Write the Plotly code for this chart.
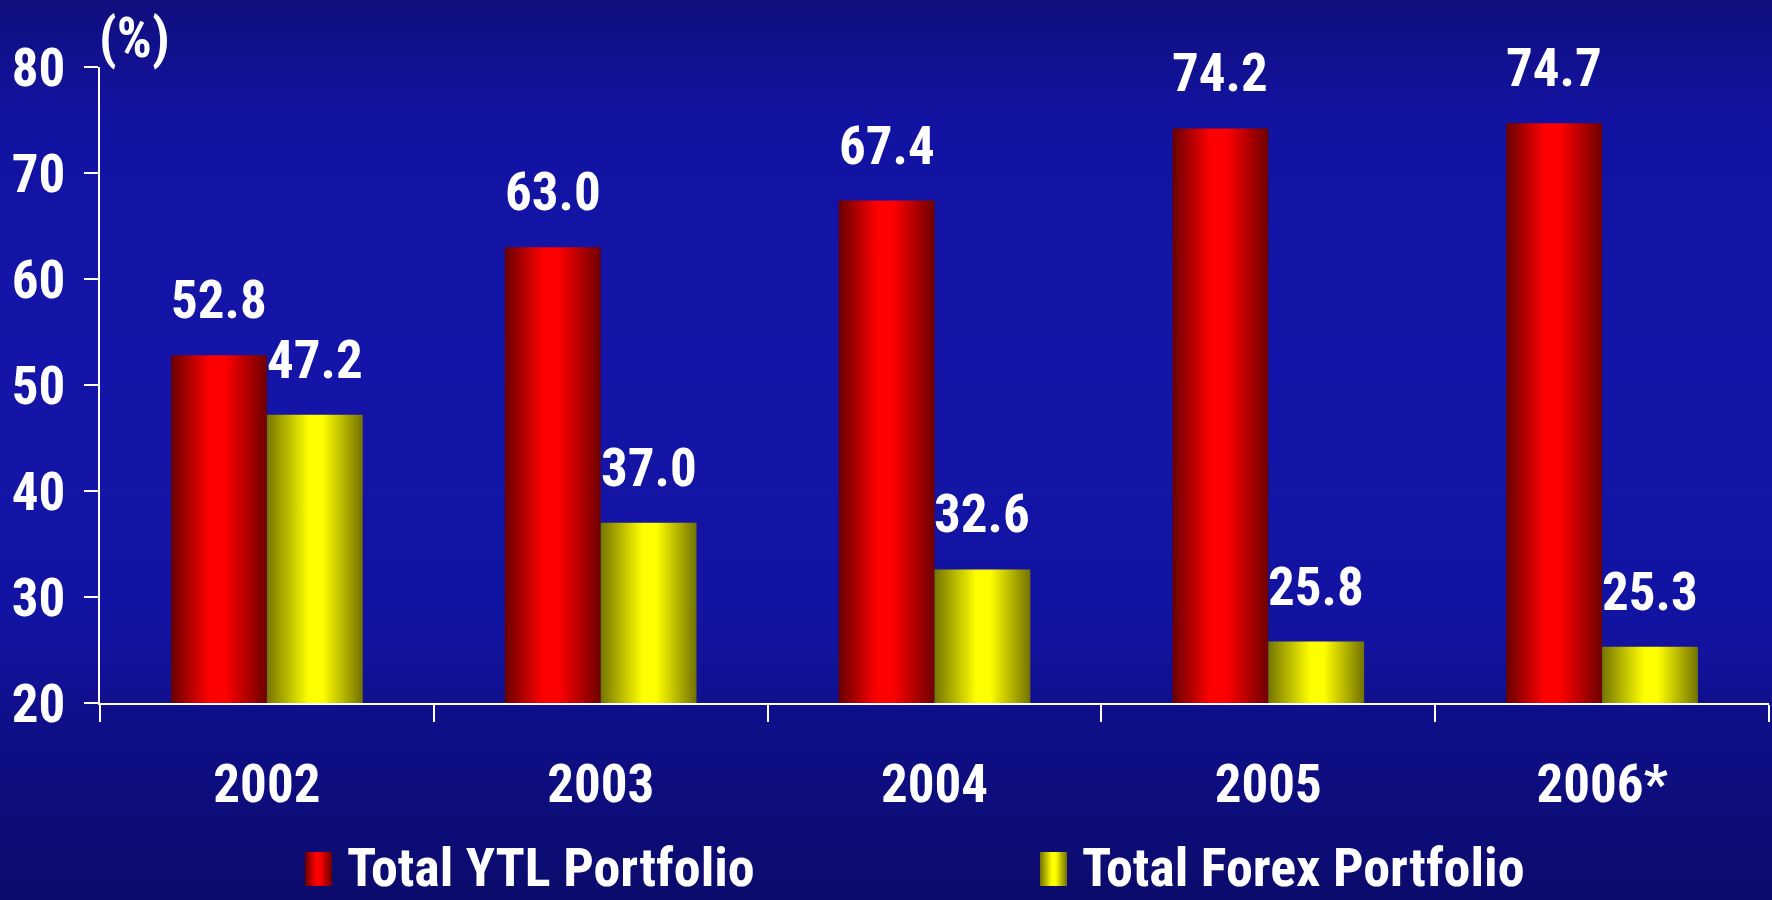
import base64
import struct
import zlib

import plotly.graph_objects as go

# Portfolio shares (%) by year
years = ["2002", "2003", "2004", "2005", "2006*"]
ytl_share = [52.8, 63.0, 67.4, 74.2, 74.7]
forex_share = [47.2, 37.0, 32.6, 25.8, 25.3]
series_names = ["Total YTL Portfolio", "Total Forex Portfolio"]
y_ticks = [20, 30, 40, 50, 60, 70, 80]

# Canvas and plot-area geometry (pixels)
W, H = 1772, 900
ML, MR, MT, MB = 100, 3, 67, 197
PW = W - ML - MR
PH = H - MT - MB
PLOT_BOTTOM = H - MB

FONT = "Noto Sans Condensed, Roboto Condensed, DejaVu Sans Condensed, sans-serif"
WHITE = "#ffffff"

RED_SCALE = [[0.0, "#690000"], [0.40, "#ff0000"], [0.56, "#ff0000"], [1.0, "#6e0000"]]
YEL_SCALE = [[0.0, "#757500"], [0.44, "#ffff00"], [0.58, "#ffff00"], [1.0, "#727200"]]


def xp(px):
    return (px - ML) / PW


def yp(py):
    return (PLOT_BOTTOM - py) / PH


def _rgb(c):
    if isinstance(c, str):
        c = c.lstrip("#")
        return tuple(int(c[i:i + 2], 16) for i in (0, 2, 4))
    return c


def _interp(stops, t):
    for (t0, c0), (t1, c1) in zip(stops, stops[1:]):
        if t0 <= t <= t1:
            f = 0 if t1 == t0 else (t - t0) / (t1 - t0)
            a, b = _rgb(c0), _rgb(c1)
            return tuple(int(round(a[k] + (b[k] - a[k]) * f)) for k in range(3))
    return _rgb(stops[-1][1])


def png_uri(rows):
    """Encode a list of pixel rows [(r,g,b), ...] as a PNG data URI."""
    h = len(rows)
    w = len(rows[0])
    raw = b"".join(b"\x00" + bytes(v for px in row for v in px) for row in rows)

    def chunk(tag, data):
        return (struct.pack(">I", len(data)) + tag + data
                + struct.pack(">I", zlib.crc32(tag + data) & 0xFFFFFFFF))

    png = (b"\x89PNG\r\n\x1a\n"
           + chunk(b"IHDR", struct.pack(">IIBBBBB", w, h, 8, 2, 0, 0, 0))
           + chunk(b"IDAT", zlib.compress(raw, 9))
           + chunk(b"IEND", b""))
    return "data:image/png;base64," + base64.b64encode(png).decode()


# Vertical navy backdrop
bg_stops = [(0.0, (15, 15, 126)), (0.13, (19, 19, 162)), (0.40, (20, 20, 168)),
            (0.70, (19, 19, 162)), (0.80, (15, 15, 138)), (1.0, (11, 11, 108))]
bg_rows = [[_interp(bg_stops, i / 299)] for i in range(300)]
bg_uri = png_uri(bg_rows)


def hgrad_uri(scale, n=64):
    return png_uri([[_interp(scale, i / (n - 1)) for i in range(n)]])


fig = go.Figure()

# Bars: each bar is a filled outline in data coordinates with a horizontal shading
half = 0.287
for s, (vals, scale) in enumerate([(ytl_share, RED_SCALE), (forex_share, YEL_SCALE)]):
    for i, v in enumerate(vals):
        x0 = i - half if s == 0 else i
        x1 = x0 + half
        fig.add_trace(go.Scatter(
            x=[x0, x1, x1, x0, x0], y=[0, 0, v, v, 0],
            mode="lines", line=dict(width=0), fill="toself",
            fillgradient=dict(type="horizontal", colorscale=scale),
            name=series_names[s], showlegend=False, hoverinfo="skip",
        ))


def bold(size):
    return dict(family=FONT, size=size, color=WHITE, weight="bold")


annotations = []
# Value labels above the bars
for s, vals in enumerate([ytl_share, forex_share]):
    for i, v in enumerate(vals):
        cx = i - half / 2 if s == 0 else i + half / 2
        annotations.append(dict(
            x=cx, y=v, xref="x", yref="y", text=f"{v:.1f}", showarrow=False,
            xanchor="center", yanchor="middle", yshift=55, font=bold(53),
        ))

# Unit label
annotations.append(dict(
    x=xp(97), y=yp(38), xref="paper", yref="paper", text="(%)", showarrow=False,
    xanchor="left", yanchor="middle", font=bold(55),
))

# Legend entries
legend_items = [(series_names[0], 305, 332, 345, RED_SCALE),
                (series_names[1], 1040, 1067, 1080, YEL_SCALE)]
images = [dict(source=bg_uri, xref="paper", yref="paper", x=xp(0), y=yp(0),
               sizex=W / PW, sizey=H / PH, sizing="stretch", layer="below",
               xanchor="left", yanchor="top")]
for label, bx0, bx1, tx, scale in legend_items:
    images.append(dict(source=hgrad_uri(scale), xref="paper", yref="paper",
                       x=xp(bx0), y=yp(852), sizex=(bx1 - bx0) / PW, sizey=34 / PH,
                       sizing="stretch", layer="above", xanchor="left", yanchor="top"))
    annotations.append(dict(
        x=xp(tx), y=yp(867), xref="paper", yref="paper", text=label, showarrow=False,
        xanchor="left", yanchor="middle", font=bold(54),
    ))

fig.update_layout(
    width=W, height=H,
    margin=dict(l=ML, r=MR, t=MT, b=MB, pad=0),
    paper_bgcolor="#0c0c70",
    plot_bgcolor="rgba(0,0,0,0)",
    showlegend=False,
    images=images,
    annotations=annotations,
    xaxis=dict(
        range=[-0.5, len(years) - 0.5],
        tickmode="array", tickvals=list(range(len(years))), ticktext=years,
        ticks="", ticklabelstandoff=33,
        tickfont=bold(53),
        minor=dict(tickmode="array", tickvals=[i - 0.5 for i in range(len(years) + 1)],
                   ticks="outside", ticklen=17, tickwidth=2, tickcolor=WHITE, showgrid=False),
        showline=True, linecolor=WHITE, linewidth=2,
        showgrid=False, zeroline=False, fixedrange=True,
    ),
    yaxis=dict(
        range=[y_ticks[0], y_ticks[-1]],
        tickmode="array", tickvals=y_ticks,
        ticks="outside", ticklen=14, tickwidth=2, tickcolor=WHITE,
        ticklabelstandoff=8,
        tickfont=bold(53),
        showline=True, linecolor=WHITE, linewidth=2,
        showgrid=False, zeroline=False, fixedrange=True,
    ),
)

fig.write_html("out.html")
